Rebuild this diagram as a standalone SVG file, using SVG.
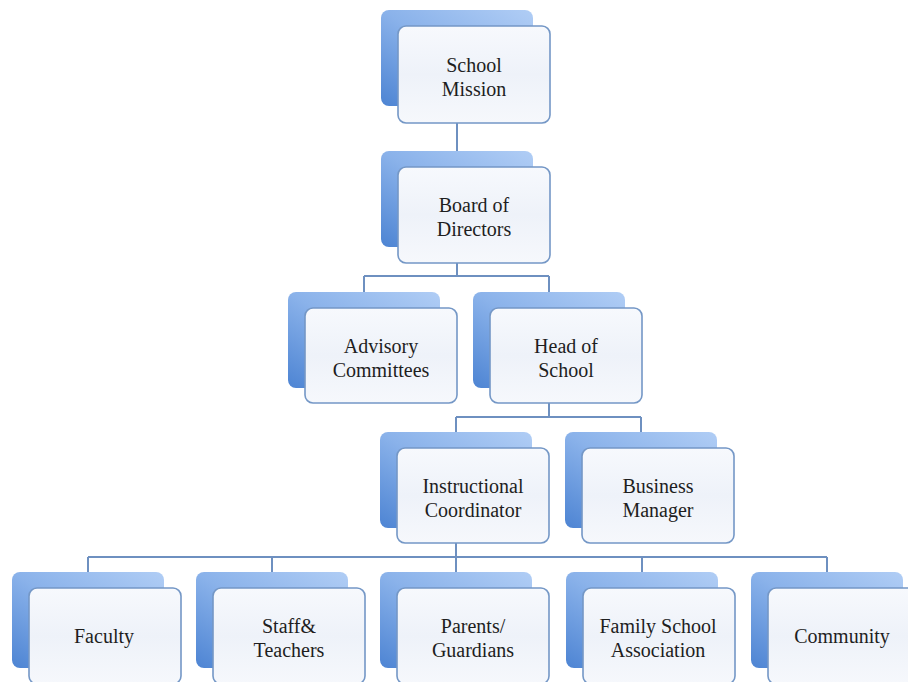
<svg xmlns="http://www.w3.org/2000/svg" width="908" height="682" viewBox="0 0 908 682">
<defs>
<linearGradient id="bg" x1="1" y1="0" x2="0" y2="1">
<stop offset="0" stop-color="#b0cdf5"/>
<stop offset="0.5" stop-color="#8ab2ea"/>
<stop offset="1" stop-color="#4d84d3"/>
</linearGradient>
<linearGradient id="fg" x1="0" y1="0" x2="0" y2="1">
<stop offset="0" stop-color="#f7f9fd"/>
<stop offset="0.5" stop-color="#eef2f9"/>
<stop offset="1" stop-color="#f6f8fc"/>
</linearGradient>
<style>
.back{fill:url(#bg);}
.front{fill:url(#fg);stroke:#7497c6;stroke-width:1.6;}
.lbl{font-family:"Liberation Serif","DejaVu Serif",serif;font-size:20px;fill:#1e1e1e;text-anchor:middle;}
.conn{fill:none;stroke:#6e90c0;stroke-width:2;}
</style>
</defs>
<rect width="908" height="682" fill="#ffffff"/>
<g id="connectors" class="conn">
<path d="M457,123 V151"/>
<path d="M457,263 V276 M364,276 H549 M364,276 V292 M549,276 V292"/>
<path d="M549,403 V417 M456,417 H641 M456,417 V432 M641,417 V432"/>
<path d="M456,543 V557 M88,557 H827 M88,557 V572 M272,557 V572 M456,557 V572 M642,557 V572 M827,557 V572"/>
</g>
<g id="school-mission">
<rect class="back" x="381" y="10" width="152" height="96" rx="8"/>
<rect class="front" x="398" y="26" width="152" height="97" rx="8"/>
<text class="lbl" x="474" y="72">School</text>
<text class="lbl" x="474" y="96">Mission</text>
</g>
<g id="board">
<rect class="back" x="381" y="151" width="152" height="96" rx="8"/>
<rect class="front" x="398" y="167" width="152" height="96" rx="8"/>
<text class="lbl" x="474" y="212">Board of</text>
<text class="lbl" x="474" y="236">Directors</text>
</g>
<g id="advisory">
<rect class="back" x="288" y="292" width="152" height="96" rx="8"/>
<rect class="front" x="305" y="308" width="152" height="95" rx="8"/>
<text class="lbl" x="381" y="353">Advisory</text>
<text class="lbl" x="381" y="377">Committees</text>
</g>
<g id="head">
<rect class="back" x="473" y="292" width="152" height="96" rx="8"/>
<rect class="front" x="490" y="308" width="152" height="95" rx="8"/>
<text class="lbl" x="566" y="353">Head of</text>
<text class="lbl" x="566" y="377">School</text>
</g>
<g id="instructional">
<rect class="back" x="380" y="432" width="152" height="96" rx="8"/>
<rect class="front" x="397" y="448" width="152" height="95" rx="8"/>
<text class="lbl" x="473" y="493">Instructional</text>
<text class="lbl" x="473" y="517">Coordinator</text>
</g>
<g id="business">
<rect class="back" x="565" y="432" width="152" height="96" rx="8"/>
<rect class="front" x="582" y="448" width="152" height="95" rx="8"/>
<text class="lbl" x="658" y="493">Business</text>
<text class="lbl" x="658" y="517">Manager</text>
</g>
<g id="faculty">
<rect class="back" x="12" y="572" width="152" height="96" rx="8"/>
<rect class="front" x="29" y="588" width="152" height="96" rx="8"/>
<text class="lbl" x="104" y="643">Faculty</text>
</g>
<g id="staff">
<rect class="back" x="196" y="572" width="152" height="96" rx="8"/>
<rect class="front" x="213" y="588" width="152" height="96" rx="8"/>
<text class="lbl" x="289" y="633">Staff&amp;</text>
<text class="lbl" x="289" y="657">Teachers</text>
</g>
<g id="parents">
<rect class="back" x="380" y="572" width="152" height="96" rx="8"/>
<rect class="front" x="397" y="588" width="152" height="96" rx="8"/>
<text class="lbl" x="473" y="633">Parents/</text>
<text class="lbl" x="473" y="657">Guardians</text>
</g>
<g id="family">
<rect class="back" x="566" y="572" width="152" height="96" rx="8"/>
<rect class="front" x="583" y="588" width="152" height="96" rx="8"/>
<text class="lbl" x="658" y="633">Family School</text>
<text class="lbl" x="658" y="657">Association</text>
</g>
<g id="community">
<rect class="back" x="751" y="572" width="152" height="96" rx="8"/>
<rect class="front" x="768" y="588" width="152" height="96" rx="8"/>
<text class="lbl" x="842" y="643">Community</text>
</g>
</svg>
